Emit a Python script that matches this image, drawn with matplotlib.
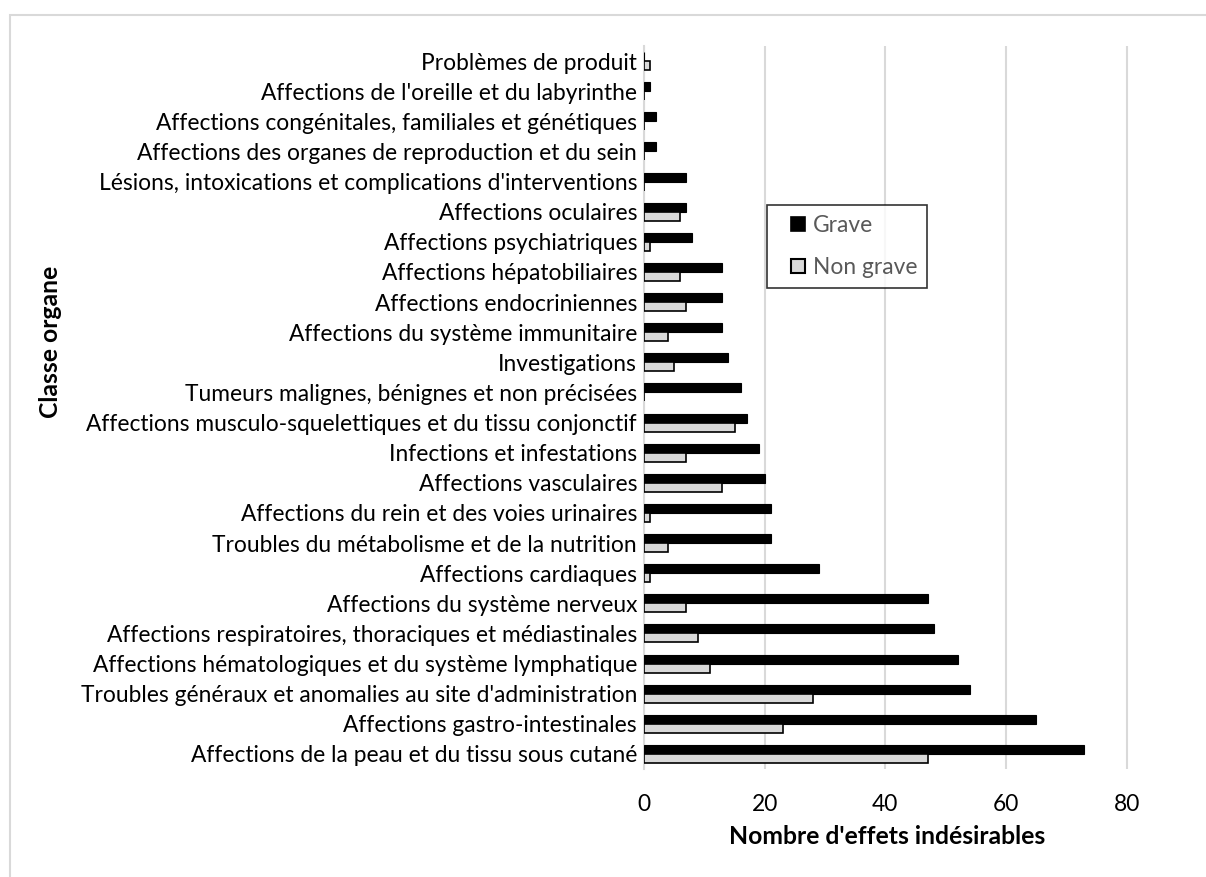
import matplotlib
matplotlib.use("Agg")
import matplotlib.pyplot as plt
from matplotlib.patches import Rectangle
from matplotlib.lines import Line2D
import numpy as np

plt.rcParams['font.family'] = ['Lato', 'DejaVu Sans']

# Organ classes, listed from bottom to top of the chart
categories = [
    "Affections de la peau et du tissu sous cutané",
    "Affections gastro-intestinales",
    "Troubles généraux et anomalies au site d'administration",
    "Affections hématologiques et du système lymphatique",
    "Affections respiratoires, thoraciques et médiastinales",
    "Affections du système nerveux",
    "Affections cardiaques",
    "Troubles du métabolisme et de la nutrition",
    "Affections du rein et des voies urinaires",
    "Affections vasculaires",
    "Infections et infestations",
    "Affections musculo-squelettiques et du tissu conjonctif",
    "Tumeurs malignes, bénignes et non précisées",
    "Investigations",
    "Affections du système immunitaire",
    "Affections endocriniennes",
    "Affections hépatobiliaires",
    "Affections psychiatriques",
    "Affections oculaires",
    "Lésions, intoxications et complications d'interventions",
    "Affections des organes de reproduction et du sein",
    "Affections congénitales, familiales et génétiques",
    "Affections de l'oreille et du labyrinthe",
    "Problèmes de produit",
]
grave = [73, 65, 54, 52, 48, 47, 29, 21, 21, 20, 19, 17, 16, 14, 13, 13, 13, 8, 7, 7, 2, 2, 1, 0]
non_grave = [47, 23, 28, 11, 9, 7, 1, 4, 1, 13, 7, 15, 0, 5, 4, 7, 6, 1, 6, 0, 0, 0, 0, 1]
x_ticks = [0, 20, 40, 60, 80]

GRAVE_COLOR = "black"
NON_GRAVE_COLOR = "#d9d9d9"

W, H = 1206, 877
fig = plt.figure(figsize=(W / 100, H / 100), dpi=100)

# light frame around the chart area
fig.patches.append(Rectangle((10 / W, -0.05), 1.2, 1 - 15 / H + 0.05,
                             transform=fig.transFigure, fill=False,
                             edgecolor="#d9d9d9", linewidth=1.5))

ax = fig.add_axes([644 / W, 1 - 769 / H, 543 / W, 723 / H])

y = np.arange(len(categories))
h = 0.3
ax.barh(y + h / 2, grave, height=h, color=GRAVE_COLOR, edgecolor="black",
        linewidth=0.8, zorder=3)
ax.barh(y - h / 2, non_grave, height=h, color=NON_GRAVE_COLOR, edgecolor="black",
        linewidth=1.2, zorder=3)

ax.set_xlim(0, 90)
ax.set_ylim(-0.5, len(categories) - 0.5)
ax.set_xticks(x_ticks)
ax.set_yticks(y)
ax.set_yticklabels(categories)
ax.tick_params(axis="both", length=0, labelsize=16.4, colors="black")
ax.tick_params(axis="y", pad=5)
ax.tick_params(axis="x", pad=18)

ax.grid(axis="x", color="#d9d9d9", linewidth=1.5, zorder=0)
ax.set_axisbelow(True)
for side in ["top", "right", "bottom"]:
    ax.spines[side].set_visible(False)
ax.spines["left"].set_color("#d9d9d9")
ax.spines["left"].set_linewidth(1.5)

fig.text(887 / W, 1 - 837 / H, "Nombre d'effets indésirables", ha="center",
         va="center", fontsize=17.8, fontweight="bold")
fig.text(51 / W, 1 - 342 / H, "Classe organe", ha="center", va="center",
         rotation=90, fontsize=17.8, fontweight="bold")

handles = [
    Line2D([], [], linestyle="none", marker="s", markersize=10.5,
           markerfacecolor=GRAVE_COLOR, markeredgecolor="black", markeredgewidth=1.2),
    Line2D([], [], linestyle="none", marker="s", markersize=10.5,
           markerfacecolor=NON_GRAVE_COLOR, markeredgecolor="black", markeredgewidth=1.5),
]
leg = ax.legend(handles, ["Grave", "Non grave"], loc="upper left",
                bbox_to_anchor=((767 - 644) / 543, (769 - 205) / 723),
                frameon=True, fancybox=False, fontsize=16.4, handlelength=1.8,
                handletextpad=-0.25, labelspacing=0.9, borderpad=0.45,
                borderaxespad=0)
leg.get_frame().set_edgecolor("black")
leg.get_frame().set_linewidth(1.2)
for t in leg.get_texts():
    t.set_color("#595959")

fig.savefig("out.png", dpi=100)
